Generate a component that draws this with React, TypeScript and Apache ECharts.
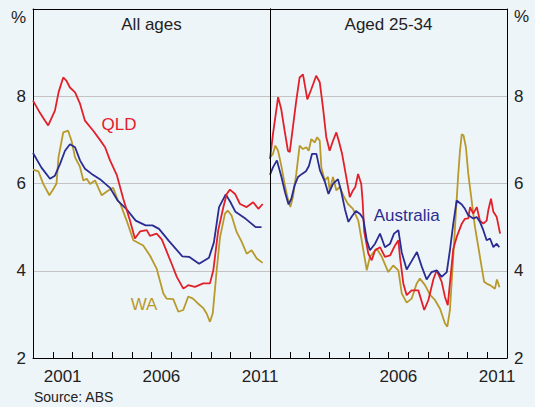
import React, { useEffect, useRef } from "react";
import * as echarts from "echarts";

// ---- Data (year as decimal, unemployment rate %) ----
const qldAll: [number, number][] = [
  [2000.0, 7.9], [2000.35, 7.62], [2000.61, 7.44], [2000.77, 7.33], [2001.11, 7.67], [2001.3, 8.1],
  [2001.53, 8.43], [2001.7, 8.35], [2001.87, 8.2], [2002.13, 8.09], [2002.38, 7.83], [2002.63, 7.44],
  [2003.05, 7.21], [2003.39, 7.0], [2003.65, 6.83], [2003.9, 6.53], [2004.24, 6.2], [2004.57, 5.65],
  [2004.91, 5.15], [2005.16, 4.74], [2005.42, 4.9], [2005.76, 4.93], [2005.92, 4.8], [2006.26, 4.85],
  [2006.52, 4.72], [2006.68, 4.54], [2007.02, 4.16], [2007.28, 3.86], [2007.61, 3.59], [2007.86, 3.67],
  [2008.2, 3.63], [2008.62, 3.71], [2008.96, 3.71], [2009.13, 4.01], [2009.38, 4.93], [2009.64, 5.46],
  [2009.81, 5.76], [2009.97, 5.86], [2010.23, 5.76], [2010.48, 5.53], [2010.82, 5.46], [2011.15, 5.57],
  [2011.41, 5.42], [2011.63, 5.53],
];
const ausAll: [number, number][] = [
  [2000.0, 6.7], [2000.42, 6.37], [2000.86, 6.11], [2001.11, 6.18], [2001.37, 6.45], [2001.62, 6.75],
  [2001.87, 6.9], [2002.13, 6.83], [2002.38, 6.53], [2002.63, 6.34], [2002.97, 6.22], [2003.39, 6.1],
  [2003.9, 5.9], [2004.3, 5.6], [2004.72, 5.42], [2005.2, 5.15], [2005.7, 5.04], [2006.05, 5.04],
  [2006.38, 4.96], [2006.89, 4.68], [2007.56, 4.33], [2007.9, 4.32], [2008.41, 4.16], [2008.91, 4.3],
  [2009.16, 4.65], [2009.42, 5.46], [2009.76, 5.75], [2010.0, 5.57], [2010.25, 5.35], [2010.77, 5.19],
  [2011.27, 5.0], [2011.57, 5.0],
];
const waAll: [number, number][] = [
  [2000.0, 6.32], [2000.27, 6.28], [2000.52, 5.99], [2000.83, 5.73], [2001.04, 5.88], [2001.19, 6.0],
  [2001.29, 6.6], [2001.53, 7.17], [2001.78, 7.21], [2001.95, 6.98], [2002.13, 6.6], [2002.38, 6.38],
  [2002.55, 6.07], [2002.72, 6.11], [2002.89, 5.99], [2003.14, 6.07], [2003.48, 5.73], [2003.81, 5.84],
  [2004.06, 5.9], [2004.3, 5.61], [2004.41, 5.55], [2004.74, 5.15], [2005.08, 4.7], [2005.58, 4.58],
  [2005.92, 4.35], [2006.26, 4.05], [2006.6, 3.48], [2006.77, 3.36], [2007.1, 3.35], [2007.36, 3.06],
  [2007.61, 3.1], [2007.86, 3.41], [2008.1, 3.36], [2008.35, 3.25], [2008.61, 3.15], [2008.79, 3.02],
  [2008.96, 2.83], [2009.1, 3.02], [2009.3, 4.01], [2009.47, 4.77], [2009.72, 5.31], [2009.86, 5.38],
  [2010.05, 5.27], [2010.31, 4.89], [2010.57, 4.66], [2010.82, 4.39], [2011.07, 4.47], [2011.33, 4.28],
  [2011.63, 4.18],
];
const qldYoung: [number, number][] = [
  [2000.0, 6.56], [2000.15, 7.13], [2000.27, 7.52], [2000.41, 7.98], [2000.57, 7.7], [2000.74, 7.21],
  [2000.91, 6.75], [2001.0, 6.72], [2001.16, 7.29], [2001.33, 7.9], [2001.5, 8.43], [2001.67, 8.5],
  [2001.89, 7.93], [2002.09, 8.16], [2002.34, 8.47], [2002.52, 8.32], [2002.68, 7.75], [2002.85, 7.06],
  [2003.02, 6.75], [2003.19, 6.98], [2003.36, 7.17], [2003.48, 6.98], [2003.65, 6.68], [2003.86, 6.15],
  [2004.04, 5.69], [2004.2, 5.84], [2004.32, 5.92], [2004.46, 6.22], [2004.62, 5.99], [2004.69, 5.6],
  [2004.77, 4.9], [2004.98, 4.39], [2005.15, 4.24], [2005.32, 4.47], [2005.57, 4.54], [2005.82, 4.32],
  [2006.08, 4.35], [2006.33, 4.58], [2006.5, 4.7], [2006.58, 4.32], [2006.75, 3.71], [2006.92, 3.44],
  [2007.17, 3.55], [2007.51, 3.55], [2007.81, 3.1], [2008.02, 3.33], [2008.27, 3.8], [2008.44, 4.01],
  [2008.69, 3.75], [2008.86, 3.4], [2009.0, 3.21], [2009.11, 3.71], [2009.28, 4.5], [2009.45, 4.77],
  [2009.71, 5.08], [2009.87, 5.19], [2010.04, 5.2], [2010.13, 5.46], [2010.29, 5.31], [2010.47, 5.46],
  [2010.63, 5.15], [2010.8, 5.08], [2010.97, 5.15], [2011.05, 5.38], [2011.19, 5.65], [2011.31, 5.35],
  [2011.48, 5.23], [2011.65, 4.85],
];
const ausYoung: [number, number][] = [
  [2000.0, 6.2], [2000.15, 6.37], [2000.35, 6.53], [2000.58, 6.15], [2000.76, 5.8], [2000.94, 5.52],
  [2001.08, 5.65], [2001.24, 5.95], [2001.42, 6.15], [2001.62, 6.22], [2001.82, 6.28], [2001.97, 6.4],
  [2002.13, 6.68], [2002.35, 6.68], [2002.53, 6.3], [2002.77, 6.05], [2002.96, 5.76], [2003.19, 5.99],
  [2003.44, 6.1], [2003.59, 5.85], [2003.8, 5.4], [2003.97, 5.12], [2004.15, 5.25], [2004.35, 5.37],
  [2004.56, 5.3], [2004.72, 5.2], [2004.9, 4.7], [2005.06, 4.47], [2005.32, 4.62], [2005.57, 4.85],
  [2005.82, 4.54], [2006.08, 4.62], [2006.28, 4.85], [2006.5, 4.93], [2006.67, 4.42], [2006.92, 4.03],
  [2007.17, 4.22], [2007.44, 4.43], [2007.68, 4.1], [2007.93, 3.8], [2008.18, 3.97], [2008.44, 4.01],
  [2008.69, 3.86], [2008.95, 3.97], [2009.11, 4.47], [2009.28, 5.08], [2009.45, 5.61], [2009.71, 5.52],
  [2009.87, 5.42], [2010.04, 5.27], [2010.29, 5.2], [2010.47, 5.23], [2010.63, 5.12], [2010.8, 4.93],
  [2010.97, 4.7], [2011.14, 4.74], [2011.31, 4.54], [2011.48, 4.62], [2011.61, 4.54],
];
const waYoung: [number, number][] = [
  [2000.0, 6.6], [2000.15, 6.68], [2000.27, 6.87], [2000.41, 6.75], [2000.57, 6.41], [2000.74, 5.99],
  [2000.88, 5.69], [2001.03, 5.46], [2001.16, 5.69], [2001.33, 6.22], [2001.5, 6.87], [2001.67, 6.79],
  [2001.84, 6.83], [2001.96, 6.75], [2002.09, 7.02], [2002.26, 6.94], [2002.39, 7.06], [2002.52, 6.98],
  [2002.6, 6.37], [2002.77, 6.07], [2002.94, 6.15], [2003.02, 5.84], [2003.19, 6.15], [2003.36, 5.84],
  [2003.53, 5.92], [2003.75, 5.69], [2003.95, 5.53], [2004.2, 5.42], [2004.47, 5.15], [2004.64, 4.7],
  [2004.9, 4.01], [2005.06, 4.32], [2005.4, 4.51], [2005.66, 4.32], [2005.99, 3.97], [2006.24, 4.12],
  [2006.5, 4.01], [2006.67, 3.48], [2006.92, 3.27], [2007.17, 3.36], [2007.43, 3.71], [2007.59, 3.82],
  [2007.85, 3.67], [2008.1, 3.45], [2008.35, 3.33], [2008.61, 3.13], [2008.86, 2.79], [2008.98, 2.72],
  [2009.11, 3.1], [2009.28, 4.32], [2009.42, 5.4], [2009.53, 6.2], [2009.62, 6.75], [2009.71, 7.13],
  [2009.8, 7.1], [2009.92, 6.83], [2010.04, 6.22], [2010.21, 5.61], [2010.38, 5.0], [2010.55, 4.54],
  [2010.71, 4.1], [2010.84, 3.75], [2010.99, 3.7], [2011.14, 3.67], [2011.29, 3.62], [2011.39, 3.59],
  [2011.49, 3.8], [2011.62, 3.62],
];
const labelYearsLeft = [2001, 2006, 2011];
const labelYearsRight = [2006, 2011];
const yTicks = [2, 4, 6, 8];

const RED = "#e2202a";
const BLUE = "#2a2c92";
const GOLD = "#b89a2c";
const TEXT = "#222222";
const FONT = "'Liberation Sans', Arial, sans-serif";

export default function App() {
  const ref = useRef<HTMLDivElement>(null);
  useEffect(() => {
    if (!ref.current) return;
    const chart = echarts.init(ref.current, null, { renderer: "svg" });

    const tickAxis = (grid: number) => ({
      type: "value", gridIndex: grid, position: "bottom", min: 2000, max: 2012, interval: 1, z: 5,
      axisLine: { show: true, lineStyle: { color: "#000", width: 1 } },
      axisTick: { show: true, inside: true, length: 6, lineStyle: { color: "#000", width: 1 } },
      axisLabel: { show: false }, splitLine: { show: false },
    });
    const labelAxis = (grid: number, years: number[]) => ({
      type: "value", gridIndex: grid, position: "bottom", min: 2000, max: 2012, interval: 0.5,
      axisLine: { show: false }, axisTick: { show: false }, splitLine: { show: false },
      axisLabel: {
        show: true, margin: 10, color: TEXT, fontSize: 17, fontFamily: FONT,
        formatter: (v: number) => {
          const y = Math.floor(v);
          return Math.abs(v - y - 0.5) < 1e-6 && years.includes(y) ? String(y) : "";
        },
      },
    });
    const topAxis = (grid: number) => ({
      type: "value", gridIndex: grid, position: "top", min: 2000, max: 2012, z: 5,
      axisLine: { show: true, lineStyle: { color: "#000", width: 1 } },
      axisTick: { show: false }, axisLabel: { show: false }, splitLine: { show: false },
    });
    const valAxis = (grid: number, pos: string) => ({
      type: "value", gridIndex: grid, position: pos, min: 2, max: 10, interval: 2, z: 0,
      axisLine: { show: true, lineStyle: { color: "#000", width: 1 } },
      axisTick: { show: false },
      axisLabel: {
        show: true, color: TEXT, fontSize: 17, fontFamily: FONT, margin: 7,
        formatter: (v: number) => (yTicks.includes(v) ? String(v) : ""),
      },
      splitLine: { show: true, lineStyle: { color: "#c3c3c3", width: 1 } },
    });
    const sideAxis = (grid: number, pos: string) => ({
      type: "value", gridIndex: grid, position: pos, min: 2, max: 10, interval: 2, z: 5,
      axisLine: { show: true, lineStyle: { color: "#000", width: 1 } },
      axisTick: { show: false }, axisLabel: { show: false }, splitLine: { show: false },
    });

    const line = (name: string, data: [number, number][], color: string, xi: number, yi: number) => ({
      name, type: "line", data, xAxisIndex: xi, yAxisIndex: yi, showSymbol: false, symbol: "none",
      lineStyle: { color, width: 1.8 }, z: 3,
    });

    const txt = (text: string, x: number, y: number, color: string, size: number, align = "center") => ({
      type: "text", x, y, z: 10,
      style: { text, fill: color, fontSize: size, fontFamily: FONT, align, verticalAlign: "middle" },
    });

    chart.setOption({
      animation: false,
      backgroundColor: "#eef5f8",
      textStyle: { fontFamily: FONT },
      grid: [
        { left: 33, right: 265, top: 9, bottom: 49 },
        { left: 270, right: 28, top: 9, bottom: 49 },
      ],
      xAxis: [
        tickAxis(0), labelAxis(0, labelYearsLeft), topAxis(0),
        tickAxis(1), labelAxis(1, labelYearsRight), topAxis(1),
      ],
      yAxis: [valAxis(0, "left"), sideAxis(0, "right"), valAxis(1, "right"), sideAxis(1, "left")],
      series: [
        line("WA", waAll, GOLD, 0, 0),
        line("Australia", ausAll, BLUE, 0, 0),
        line("QLD", qldAll, RED, 0, 0),
        line("WA 25-34", waYoung, GOLD, 3, 2),
        line("QLD 25-34", qldYoung, RED, 3, 2),
        line("Australia 25-34", ausYoung, BLUE, 3, 2),
      ],
      graphic: [
        txt("%", 18.5, 17.5, TEXT, 17),
        txt("%", 521.5, 16.5, TEXT, 17),
        txt("All ages", 151.5, 24, TEXT, 17),
        txt("Aged 25-34", 388.5, 24, TEXT, 17),
        txt("QLD", 119, 124, RED, 17),
        txt("WA", 144, 304, GOLD, 17),
        txt("Australia", 406.7, 215, BLUE, 17),
        txt("Source: ABS", 34, 397, TEXT, 14, "left"),
      ],
    });
    return () => chart.dispose();
  }, []);
  return (
    <div
      ref={ref}
      style={{ position: "absolute", left: 0, top: 0, width: 535, height: 407 }}
    />
  );
}
